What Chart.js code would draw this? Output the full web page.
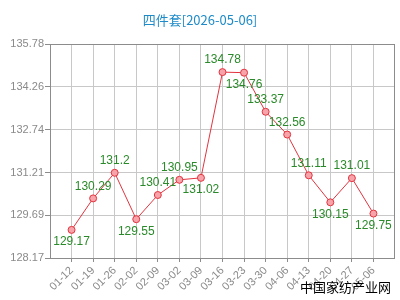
<!DOCTYPE html>
<html>
<head>
<meta charset="utf-8">
<script src="https://cdn.jsdelivr.net/npm/chart.js@4.4.1/dist/chart.umd.min.js"></script>
<style>
  html, body { margin: 0; padding: 0; background: #fff; }
  #c { display: block; }
</style>
</head>
<body>
<canvas id="c" width="400" height="300"></canvas>
<script>
// data
const dates = ['01-12', '01-19', '01-26', '02-02', '02-09', '03-02', '03-09', '03-16',
               '03-23', '03-30', '04-06', '04-13', '04-20', '04-27', '05-06'];
const prices = [129.17, 130.29, 131.2, 129.55, 130.41, 130.95, 131.02, 134.78,
                134.76, 133.37, 132.56, 131.11, 130.15, 131.01, 129.75];
const yTicks = [128.17, 129.69, 131.21, 132.74, 134.26, 135.78];

const titleText = '四件套[2026-05-06]';
const watermark = '中国家纺产业网';

// where each value label sits (1 = above the point, -1 = below)
const labelSide = [-1, 1, 1, -1, 1, 1, -1, 1, -1, 1, 1, 1, -1, 1, -1];

const points = prices.map((v, i) => ({ x: i, y: v }));

// title, frame, value labels and watermark
const decor = {
    id: 'decor',
    afterDraw(chart) {
        const ctx = chart.ctx;
        const area = chart.chartArea;
        ctx.save();

        // frame round the plot
        ctx.strokeStyle = '#8c8c8c';
        ctx.lineWidth = 1;
        ctx.strokeRect(area.left + 0.5, area.top + 0.5, area.right - area.left - 1, area.bottom - area.top);

        // title
        ctx.fillStyle = '#1e8bc8';
        ctx.font = '13px "Noto Sans CJK SC", sans-serif';
        ctx.textAlign = 'center';
        ctx.textBaseline = 'middle';
        ctx.fillText(titleText, 200, 20);

        // value labels
        const meta = chart.getDatasetMeta(0);
        ctx.fillStyle = '#2a8a2a';
        ctx.font = '12px "Liberation Sans", Arial, sans-serif';
        meta.data.forEach((pt, i) => {
            const dy = labelSide[i] > 0 ? -12 : 12;
            ctx.fillText(String(prices[i]), pt.x, pt.y + dy);
        });

        // watermark
        ctx.fillStyle = '#000';
        ctx.font = '13px "Noto Sans CJK SC", sans-serif';
        ctx.textAlign = 'right';
        ctx.fillText(watermark, 391, 287);
        ctx.restore();
    }
};

try {
    new Chart(document.getElementById('c').getContext('2d'), {
        type: 'line',
        data: {
            datasets: [{
                data: points,
                borderColor: '#e2343f',
                borderWidth: 1,
                backgroundColor: '#f6a3aa',
                pointBackgroundColor: '#f6a3aa',
                pointBorderColor: '#e2343f',
                pointBorderWidth: 1,
                pointRadius: 3.5,
                tension: 0,
                fill: false
            }]
        },
        options: {
            responsive: false,
            animation: false,
            layout: { padding: { top: 44, right: 1, left: 0, bottom: 0 } },
            plugins: {
                legend: { display: false },
                title: { display: false },
                tooltip: { enabled: false }
            },
            scales: {
                x: {
                    type: 'linear',
                    min: -1,
                    max: dates.length,
                    afterBuildTicks(scale) {
                        scale.ticks = dates.map((d, i) => ({ value: i }));
                    },
                    afterFit(scale) { scale.height = 42; },
                    ticks: {
                        autoSkip: false,
                        minRotation: 45,
                        maxRotation: 45,
                        padding: 2,
                        color: '#8a8a8a',
                        font: { size: 11, family: '"Liberation Sans", Arial, sans-serif' },
                        callback: (v) => dates[v] || ''
                    },
                    grid: {
                        color: '#c8c8c8',
                        borderDash: [1, 2],
                        tickLength: 4,
                        tickColor: '#8c8c8c',
                        tickBorderDash: []
                    },
                    border: { display: false }
                },
                y: {
                    min: yTicks[0],
                    max: yTicks[yTicks.length - 1],
                    afterBuildTicks(scale) {
                        scale.ticks = yTicks.map(v => ({ value: v }));
                    },
                    afterFit(scale) { scale.width = 50; },
                    ticks: {
                        padding: 1,
                        color: '#8a8a8a',
                        font: { size: 11, family: '"Liberation Sans", Arial, sans-serif' },
                        callback: (v) => v.toFixed(2)
                    },
                    grid: {
                        color: '#c8c8c8',
                        borderDash: [1, 2],
                        tickLength: 5,
                        tickColor: '#8c8c8c',
                        tickBorderDash: []
                    },
                    border: { display: false }
                }
            }
        },
        plugins: [decor]
    });
} catch (error) {
    console.error('Chart error:', error);
}
</script>
</body>
</html>
